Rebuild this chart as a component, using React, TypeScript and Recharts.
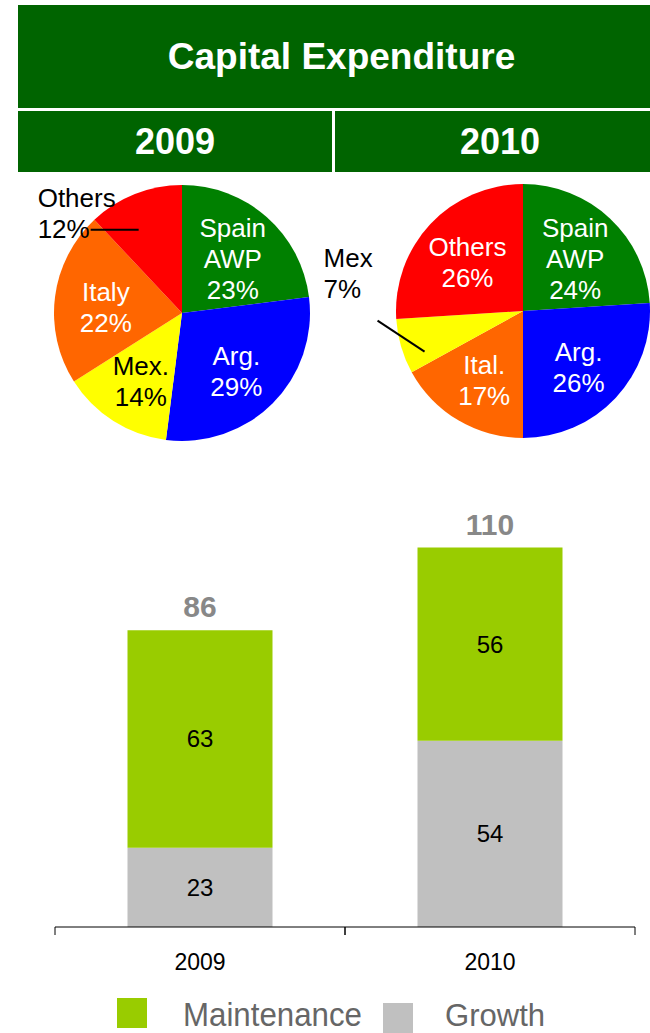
import { Bar, BarChart, Cell, LabelList, Pie, PieChart, XAxis, YAxis } from 'recharts'

const FONT = '"Liberation Sans", Arial, sans-serif'

// pies: slices clockwise from 12 o'clock
const names2009 = ['Spain AWP', 'Arg.', 'Mex.', 'Italy', 'Others']
const shares2009 = [23, 29, 14, 22, 12]
const names2010 = ['Spain AWP', 'Arg.', 'Ital.', 'Mex', 'Others']
const shares2010 = [24, 26, 17, 7, 26]
const sliceColors2009 = ['#008000', '#0000FF', '#FFFF00', '#FF6600', '#FF0000']
const sliceColors2010 = ['#008000', '#0000FF', '#FF6600', '#FFFF00', '#FF0000']

// stacked bars
const years = ['2009', '2010']
const growth = [23, 54]
const maintenance = [63, 56]
const totals = [86, 110]

const pie2009 = names2009.map((name, i) => ({ name, value: shares2009[i] }))
const pie2010 = names2010.map((name, i) => ({ name, value: shares2010[i] }))
const barData = years.map((year, i) => ({
  year,
  growth: growth[i],
  maintenance: maintenance[i],
  total: totals[i],
}))

const RAD = Math.PI / 180
const LINE_H = 31

function labelLines(name: string, value: number) {
  return [...name.split(' '), `${value}%`]
}

function TextBlock({ x, y, lines, fill, anchor = 'middle' }: any) {
  const top = -((lines.length - 1) / 2) * LINE_H
  return (
    <text x={x} y={y} fill={fill} fontSize={26} fontFamily={FONT} textAnchor={anchor}>
      {lines.map((l: string, i: number) => (
        <tspan key={i} x={x} y={y + top + i * LINE_H} dominantBaseline="central">
          {l}
        </tspan>
      ))}
    </text>
  )
}

// small slices get an outside label with a leader line
function makeLabel(colors: string[], outside: (px: number, py: number, lines: string[]) => any) {
  return (props: any) => {
    const { cx, cy, midAngle, outerRadius, index, name, value } = props
    const lines = labelLines(name, value)
    if (value < 13) {
      const r = outerRadius * 0.75
      const px = cx + r * Math.cos(-midAngle * RAD)
      const py = cy + r * Math.sin(-midAngle * RAD)
      return outside(px, py, lines)
    }
    const r = outerRadius * 0.6
    const px = cx + r * Math.cos(-midAngle * RAD)
    const py = cy + r * Math.sin(-midAngle * RAD) + 4
    const fill = colors[index] === '#FFFF00' ? '#000' : '#fff'
    return <TextBlock x={px} y={py} lines={lines} fill={fill} />
  }
}

const label2009 = makeLabel(sliceColors2009, (px, py, lines) => (
  <g>
    <line x1={px - 8} y1={py + 6} x2={px - 56} y2={py + 6} stroke="#000" strokeWidth={2} />
    <TextBlock x={px - 109} y={py - 10} lines={lines} fill="#000" anchor="start" />
  </g>
))

const label2010 = makeLabel(sliceColors2010, (px, py, lines) => (
  <g>
    <line x1={px - 7} y1={py + 14} x2={px - 54} y2={py - 17} stroke="#000" strokeWidth={2} />
    <TextBlock x={px - 108} y={py - 64} lines={lines} fill="#000" anchor="start" />
  </g>
))

const BAND = 290

function YearTick({ x, y, payload }: any) {
  return (
    <g>
      <line x1={x - BAND / 2} y1={y} x2={x - BAND / 2} y2={y + 8} stroke="#000" />
      <line x1={x + BAND / 2} y1={y} x2={x + BAND / 2} y2={y + 8} stroke="#000" />
      <text x={x} y={y + 35} textAnchor="middle" dominantBaseline="central" fontSize={23} fontFamily={FONT} fill="#000">
        {payload.value}
      </text>
    </g>
  )
}

const headStyle: any = {
  position: 'absolute',
  boxSizing: 'border-box',
  background: '#006400',
  color: '#fff',
  fontFamily: FONT,
  fontWeight: 'bold',
  display: 'flex',
  alignItems: 'center',
  justifyContent: 'center',
}

export default function App() {
  return (
    <div style={{ position: 'relative', width: 650, height: 1033, overflow: 'hidden', background: '#fff' }}>
      <style>{'body{margin:0}'}</style>
      <div style={{ ...headStyle, left: 18, top: 5, width: 632, height: 103, fontSize: 37, paddingLeft: 15 }}>Capital Expenditure</div>
      <div style={{ ...headStyle, left: 18, top: 111, width: 314, height: 61, fontSize: 36 }}>2009</div>
      <div style={{ ...headStyle, left: 335, top: 111, width: 315, height: 61, fontSize: 36, paddingLeft: 15 }}>2010</div>

      <div style={{ position: 'absolute', left: 0, top: 175 }}>
        <PieChart width={650} height={280} margin={{ top: 0, right: 0, bottom: 0, left: 0 }}>
          <Pie
            data={pie2009}
            dataKey="value"
            cx={182}
            cy={138}
            outerRadius={128}
            startAngle={90}
            endAngle={-270}
            stroke="none"
            labelLine={false}
            label={label2009}
            isAnimationActive={false}
          >
            {pie2009.map((d, i) => (
              <Cell key={d.name} fill={sliceColors2009[i]} />
            ))}
          </Pie>
          <Pie
            data={pie2010}
            dataKey="value"
            cx={523}
            cy={136}
            outerRadius={127}
            startAngle={90}
            endAngle={-270}
            stroke="none"
            labelLine={false}
            label={label2010}
            isAnimationActive={false}
          >
            {pie2010.map((d, i) => (
              <Cell key={d.name} fill={sliceColors2010[i]} />
            ))}
          </Pie>
        </PieChart>
      </div>

      <div style={{ position: 'absolute', left: 0, top: 460 }}>
        <BarChart width={650} height={540} data={barData} margin={{ top: 53, right: 15, left: 55, bottom: 0 }} barCategoryGap="25%">
          <XAxis
            dataKey="year"
            height={73}
            axisLine={{ stroke: '#000' }}
            tickLine={false}
            tickSize={0}
            tickMargin={0}
            tick={<YearTick />}
            interval={0}
          />
          <YAxis hide domain={[0, 120]} />
          <Bar dataKey="growth" stackId="a" fill="#C0C0C0" isAnimationActive={false}>
            <LabelList dataKey="growth" position="center" fill="#000" fontSize={24} fontFamily={FONT} />
          </Bar>
          <Bar dataKey="maintenance" stackId="a" fill="#99CC00" isAnimationActive={false}>
            <LabelList dataKey="maintenance" position="center" fill="#000" fontSize={24} fontFamily={FONT} />
            <LabelList dataKey="total" position="top" offset={13} fill="#888" fontSize={30} fontWeight="bold" fontFamily={FONT} />
          </Bar>
        </BarChart>
      </div>

      <svg width={650} height={43} style={{ position: 'absolute', left: 0, top: 990 }}>
        <rect x={117} y={8} width={30} height={30} fill="#99CC00" />
        <text x={183} y={36} fontSize={34} fontFamily={FONT} fill="#666" textLength={179} lengthAdjust="spacingAndGlyphs">
          Maintenance
        </text>
        <rect x={383} y={13} width={30} height={30} fill="#C0C0C0" />
        <text x={445} y={36} fontSize={32} fontFamily={FONT} fill="#666" textLength={100} lengthAdjust="spacingAndGlyphs">
          Growth
        </text>
      </svg>
    </div>
  )
}
